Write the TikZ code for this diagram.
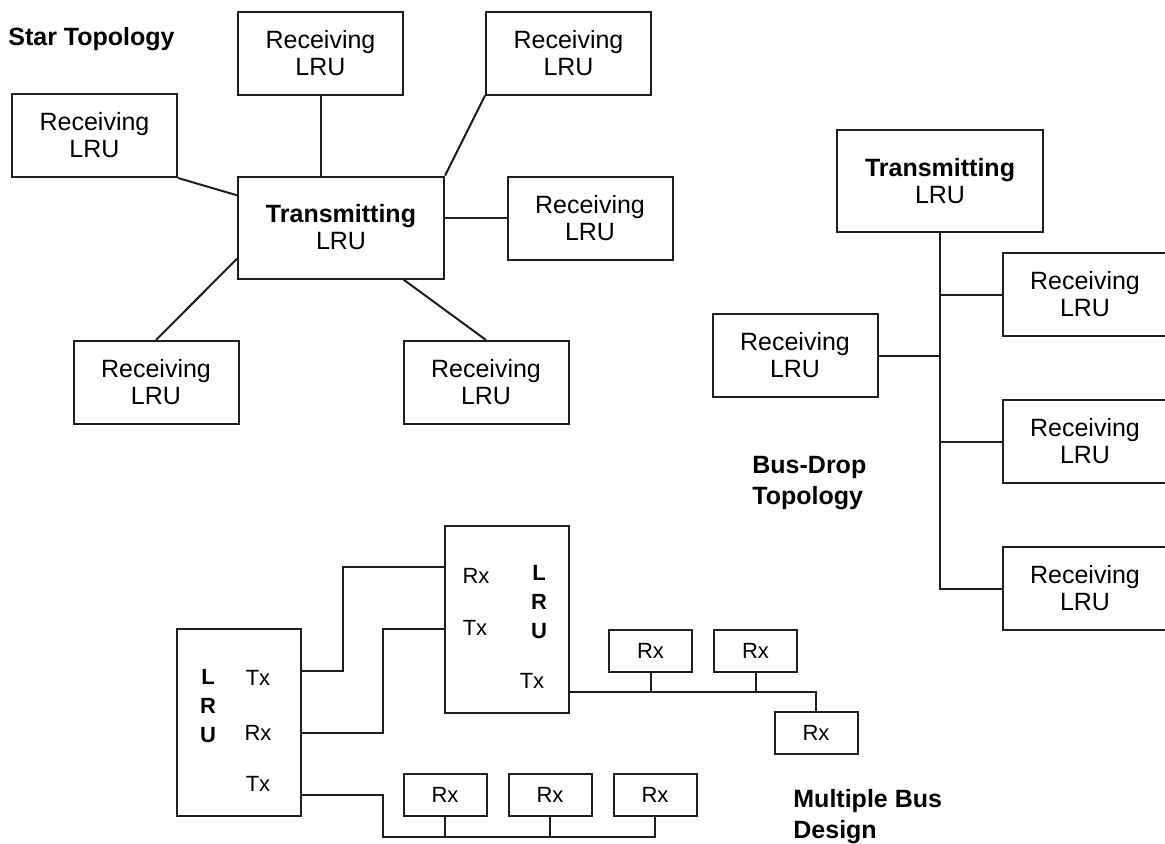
\documentclass[tikz,border=0pt]{standalone}
\usepackage{fontspec}
\setmainfont{Liberation Sans}
\usepackage{tikz}
\usetikzlibrary{positioning, calc}
\definecolor{ink}{HTML}{1e1e1e}
\tikzstyle{lrubox}    = [rectangle, draw=ink, line width=1pt, minimum width=82.5pt,
                         minimum height=41.5pt, inner sep=0pt, align=center,
                         font=\fontsize{12.5}{13.5}\selectfont]
\tikzstyle{txbox}     = [lrubox, minimum width=103pt, minimum height=51pt]
\tikzstyle{unitbox}   = [rectangle, draw=ink, line width=1pt, minimum width=62pt,
                         minimum height=93.5pt, inner sep=0pt]
\tikzstyle{rxbox}     = [rectangle, draw=ink, line width=1pt, minimum width=41.5pt,
                         minimum height=21pt, inner sep=0pt, font=\fontsize{11}{13}\selectfont]
\tikzstyle{portlabel} = [inner sep=0pt, font=\fontsize{11}{13}\selectfont]
\tikzstyle{vlabel}    = [inner sep=0pt, align=center, font=\fontsize{11}{14.5}\selectfont\bfseries]
\tikzstyle{heading}   = [inner sep=0pt, align=left, anchor=west,
                         font=\fontsize{12.5}{15.5}\selectfont\bfseries]
\tikzstyle{wire}      = [draw=ink, line width=1pt]

\begin{document}
\begin{tikzpicture}[x=0.5pt, y=-0.5pt]
  \useasboundingbox (0,0) rectangle (1165,843);
  \clip (0,0) rectangle (1165,843);

  %% ── Star topology ──
  \node[heading, anchor=base west] (star_title) at (8,45) {Star Topology};
  \node[txbox] (hub) at (341,227.5) {\textbf{Transmitting}\\LRU};
  \node[lrubox] (s_top)   at (320.5,53)  {Receiving\\LRU};
  \node[lrubox] (s_topr)  at (568.5,53)  {Receiving\\LRU};
  \node[lrubox] (s_left)  at (94.5,135.5) {Receiving\\LRU};
  \node[lrubox] (s_right) at (590,218)   {Receiving\\LRU};
  \node[lrubox] (s_botl)  at (156,382.5) {Receiving\\LRU};
  \node[lrubox] (s_botr)  at (486,382.5) {Receiving\\LRU};

  \draw[wire] (s_top.south) -- (s_top.south |- hub.north);
  \draw[wire] (s_topr.south west) -- (hub.north east);
  \draw[wire] (s_left.south east) -- ($(hub.north west)!.19!(hub.south west)$);
  \draw[wire] (s_right.west) -- (s_right.west -| hub.east);
  \draw[wire] ($(hub.north west)!.8!(hub.south west)$) -- (s_botl.north);
  \draw[wire] ($(hub.south west)!.8!(hub.south east)$) -- (s_botr.north);

  %% ── Bus-drop topology ──
  \node[txbox] (bd_tx) at (940,181) {\textbf{Transmitting}\\LRU};
  \node[lrubox] (bd_r1) at (1085,294.5) {Receiving\\LRU};
  \node[lrubox, below=31pt of bd_r1] (bd_r2) {Receiving\\LRU};
  \node[lrubox, below=31pt of bd_r2] (bd_r3) {Receiving\\LRU};
  \node[lrubox] (bd_l1) at (795,355.5) {Receiving\\LRU};
  \node[heading] (bd_title) at (752,483) {Bus-Drop\\Topology};

  \draw[wire] (bd_tx.south) |- (bd_r3.west);
  \draw[wire] (bd_r1.west) -- (bd_r1.west -| bd_tx.south);
  \draw[wire] (bd_r2.west) -- (bd_r2.west -| bd_tx.south);
  \draw[wire] (bd_l1.east) -- (bd_l1.east -| bd_tx.south);

  %% ── Multiple bus design ──
  \node[unitbox] (mb_a) at (239,722.5) {};
  \node[unitbox] (mb_b) at (506.5,619) {};
  \node[vlabel]    (mb_a_name) at (208,706)   {L\\R\\U};
  \node[portlabel] (mb_a_t1)   at (258,678)   {Tx};
  \node[portlabel] (mb_a_r1)   at (258,733)   {Rx};
  \node[portlabel] (mb_a_t2)   at (258,784)   {Tx};
  \node[vlabel]    (mb_b_name) at (539,602.5) {L\\R\\U};
  \node[portlabel] (mb_b_r1)   at (476,576)   {Rx};
  \node[portlabel] (mb_b_t1)   at (475,628)   {Tx};
  \node[portlabel] (mb_b_t2)   at (532,681)   {Tx};

  \node[rxbox] (rx_a1) at (650.5,651) {Rx};
  \node[rxbox, right=10pt of rx_a1] (rx_a2) {Rx};
  \node[rxbox] (rx_c) at (816,733) {Rx};
  \node[rxbox] (rx_b1) at (445,794.5) {Rx};
  \node[rxbox, right=10pt of rx_b1] (rx_b2) {Rx};
  \node[rxbox, right=10pt of rx_b2] (rx_b3) {Rx};
  \node[heading] (mb_title) at (793,817) {Multiple Bus\\Design};

  \coordinate (a_out1) at ($(mb_a.north east)!.225!(mb_a.south east)$);
  \coordinate (a_in2)  at ($(mb_a.north east)!.556!(mb_a.south east)$);
  \coordinate (a_out3) at ($(mb_a.north east)!.882!(mb_a.south east)$);
  \coordinate (b_in1)  at ($(mb_b.north west)!.226!(mb_b.south west)$);
  \coordinate (b_out2) at ($(mb_b.north west)!.554!(mb_b.south west)$);
  \coordinate (b_out3) at ($(mb_b.north east)!.887!(mb_b.south east)$);
  \coordinate (bus_low) at (383,837);

  \draw[wire] (a_out1) -| ($(a_out1)!.29!(b_in1)$) |- (b_in1);
  \draw[wire] (a_in2) -| ($(a_in2)!.57!(b_out2)$) |- (b_out2);
  \draw[wire] (a_out3) -| (bus_low) -| (rx_b3.south);
  \draw[wire] (rx_b1.south) -- (rx_b1.south |- bus_low);
  \draw[wire] (rx_b2.south) -- (rx_b2.south |- bus_low);
  \draw[wire] (b_out3) -| (rx_c.north);
  \draw[wire] (rx_a1.south) -- (rx_a1.south |- b_out3);
  \draw[wire] (rx_a2.south) -- (rx_a2.south |- b_out3);

\end{tikzpicture}
\end{document}
